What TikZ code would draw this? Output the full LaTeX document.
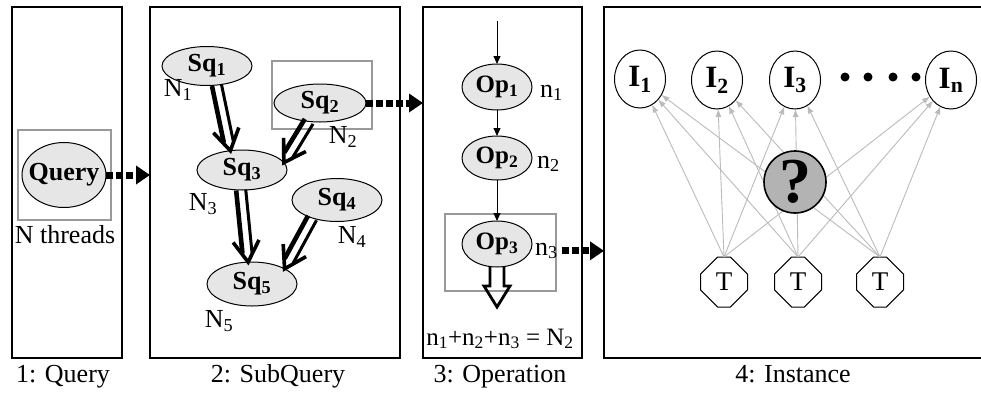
\documentclass[tikz,border=0pt]{standalone}
\usepackage{fontspec}
\setmainfont{Liberation Serif}
\usetikzlibrary{arrows.meta,calc,shapes.geometric,shapes.misc}
\definecolor{ellfill}{HTML}{E6E6E6}
\definecolor{boxgray}{HTML}{999999}
\definecolor{linegray}{HTML}{BBBBBB}
\definecolor{qfill}{HTML}{B3B3B3}
\newcommand\hollowarr[2]{%
  \coordinate (hA) at #1;
  \coordinate (hB) at #2;
  \coordinate (hE) at ($(hB)!9pt!(hA)$);
  \coordinate (hH) at ($(hB)!21pt!(hA)$);
  \draw[line width=4.6pt] ($(hA)!4.8pt!-90:(hB)$) -- ($(hE)!4.8pt!90:(hA)$);
  \draw[line width=3pt] ($(hA)!4.8pt!90:(hB)$) -- ($(hE)!4.8pt!-90:(hA)$);
  \draw[line width=3.6pt] ($(hH)!13pt!90:(hA)$) -- (hB) -- ($(hH)!13pt!-90:(hA)$);
}
\begin{document}
\begin{tikzpicture}[x=1pt,y=-1pt,
  every node/.style={inner sep=0pt, outer sep=0pt},
  panel/.style={draw, line width=1.3pt, rectangle},
  selbox/.style={draw=boxgray, line width=1.2pt, rectangle},
  oval/.style={ellipse, draw, line width=1pt, fill=ellfill},
  lbl/.style={font=\fontsize{26}{30}\selectfont},
  blbl/.style={font=\fontsize{26}{30}\selectfont\bfseries},
  captxt/.style={font=\fontsize{26}{31}\selectfont, anchor=base},
  inode/.style={ellipse, draw, line width=1pt, fill=white, minimum width=51pt, minimum height=58pt, font=\fontsize{31}{34}\selectfont\bfseries},
  tnode/.style={chamfered rectangle, chamfered rectangle xsep=11pt, chamfered rectangle ysep=11pt, draw, line width=1pt, fill=white, minimum width=47pt, minimum height=50pt, font=\fontsize{27}{30}\selectfont},
  dasharr/.style={line width=7pt, dash pattern=on 7pt off 3pt, -{Triangle[length=14pt,width=18pt]}},
  thinarr/.style={line width=1pt, -{Triangle[length=8pt,width=7pt]}},
  grayarr/.style={draw=linegray, line width=0.9pt, -{Latex[length=8pt,width=6pt]}},
]
\useasboundingbox (0,0) rectangle (981,394);
\fill[white] (0,0) rectangle (981,394);
\clip (0,0) rectangle (981,394);

% panels
\node[panel, minimum width=110pt, minimum height=351pt] (p1) at (67,182.5) {};
\node[panel, minimum width=250pt, minimum height=351pt] (p2) at (275,182.5) {};
\node[panel, minimum width=159pt, minimum height=351pt] (p3) at (502.5,182.5) {};
\node[panel, minimum width=381pt, minimum height=351pt] (p4) at (794.5,182.5) {};

\node[captxt] (c1) at (63,382) {1: Query};
\node[captxt] (c2) at (278,382) {2: SubQuery};
\node[captxt] (c3) at (500,382) {3: Operation};
\node[captxt] (c4) at (793,382) {4: Instance};

% panel 1
\node[selbox, minimum width=93pt, minimum height=90pt] (b1) at (64.5,175) {};
\node[oval, blbl, inner xsep=-8pt, minimum width=84pt, minimum height=65pt] (query) at (64,175) {Query};
\node[lbl, anchor=base] (nthr) at (65,243) {N threads};
\draw[dasharr] (query) -- (query -| p2.west);

% panel 2
\node[selbox, minimum width=100pt, minimum height=68pt] (b2) at (322,95) {};
\node[oval, blbl, minimum width=90pt, minimum height=39pt] (sq1) at (207,66) {Sq\textsubscript{1}};
\node[oval, blbl, minimum width=92pt, minimum height=38pt] (sq2) at (320,103) {Sq\textsubscript{2}};
\node[oval, blbl, minimum width=90pt, minimum height=40pt] (sq3) at (242,170) {Sq\textsubscript{3}};
\node[oval, blbl, minimum width=90pt, minimum height=43pt] (sq4) at (337,200) {Sq\textsubscript{4}};
\node[oval, blbl, minimum width=90pt, minimum height=44pt] (sq5) at (252,284) {Sq\textsubscript{5}};
\node[lbl] (n1) at (178,90) {N\textsubscript{1}};
\node[lbl] (n2) at (343,137) {N\textsubscript{2}};
\node[lbl] (n3) at (203,204) {N\textsubscript{3}};
\node[lbl] (n4) at (352,237) {N\textsubscript{4}};
\node[lbl] (n5) at (219,321) {N\textsubscript{5}};
\hollowarr{(sq1.-63)}{(sq3.121)}
\hollowarr{(sq2.-121)}{(sq3.10)}
\hollowarr{(sq3.-93)}{(sq5.100)}
\hollowarr{(sq4.-144)}{(sq5.25)}
\draw[dasharr] (sq2) -- (sq2 -| p3.west);

% panel 3
\node[selbox, minimum width=111pt, minimum height=77pt] (b3) at (500.5,252.5) {};
\node[oval, font=\fontsize{25}{28}\selectfont\bfseries, minimum width=70pt, minimum height=46pt] (op1) at (497,87) {Op\textsubscript{1}};
\node[oval, font=\fontsize{25}{28}\selectfont\bfseries, minimum width=70pt, minimum height=44pt] (op2) at (497,158) {Op\textsubscript{2}};
\node[oval, font=\fontsize{25}{28}\selectfont\bfseries, minimum width=70pt, minimum height=46pt] (op3) at (497,244) {Op\textsubscript{3}};
\node[lbl, anchor=base west] (nl1) at (540,97) {n\textsubscript{1}};
\node[lbl, anchor=base west] (nl2) at (537,168) {n\textsubscript{2}};
\node[lbl, anchor=base west] (nl3) at (535,255) {n\textsubscript{3}};
\coordinate (optop) at (497,21);
\draw[thinarr] (optop) -- (op1);
\draw[thinarr] (op1) -- (op2);
\draw[thinarr] (op2) -- (op3);
\draw[line width=2.8pt] ([xshift=-7pt,yshift=1pt]op3.south) -- ++(0,20) -- ++(-6,0) -- ++(13,21) -- ++(13,-21) -- ++(-6,0) -- ++(0,-20);
\node[font=\fontsize{25}{30}\selectfont, anchor=base] (sum) at (500,345) {n\textsubscript{1}+n\textsubscript{2}+n\textsubscript{3} = N\textsubscript{2}};
\draw[dasharr] ([xshift=4pt]nl3.east) -- (nl3.east -| p4.west);

% panel 4
\node[inode] (i1) at (640,79) {I\textsubscript{1}};
\node[inode] (i2) at (717,80) {I\textsubscript{2}};
\node[inode] (i3) at (795,80) {I\textsubscript{3}};
\node[inode] (in) at (951,80) {I\textsubscript{n}};
\foreach \dx in {845,868,893,916} \fill (\dx,77) circle (4.5);
\node[tnode] (t1) at (724,282) {T};
\node[tnode] (t2) at (798,282) {T};
\node[tnode] (t3) at (880,282) {T};
\foreach \t in {t1,t2,t3}
  \foreach \i in {i1,i2,i3,in}
    \draw[grayarr] (\t.north) -- (\i);
\node[circle, draw, line width=1.6pt, fill=qfill, minimum size=62pt, font=\fontsize{64}{64}\selectfont\bfseries] (q) at (795,182) {?};
\end{tikzpicture}
\end{document}
